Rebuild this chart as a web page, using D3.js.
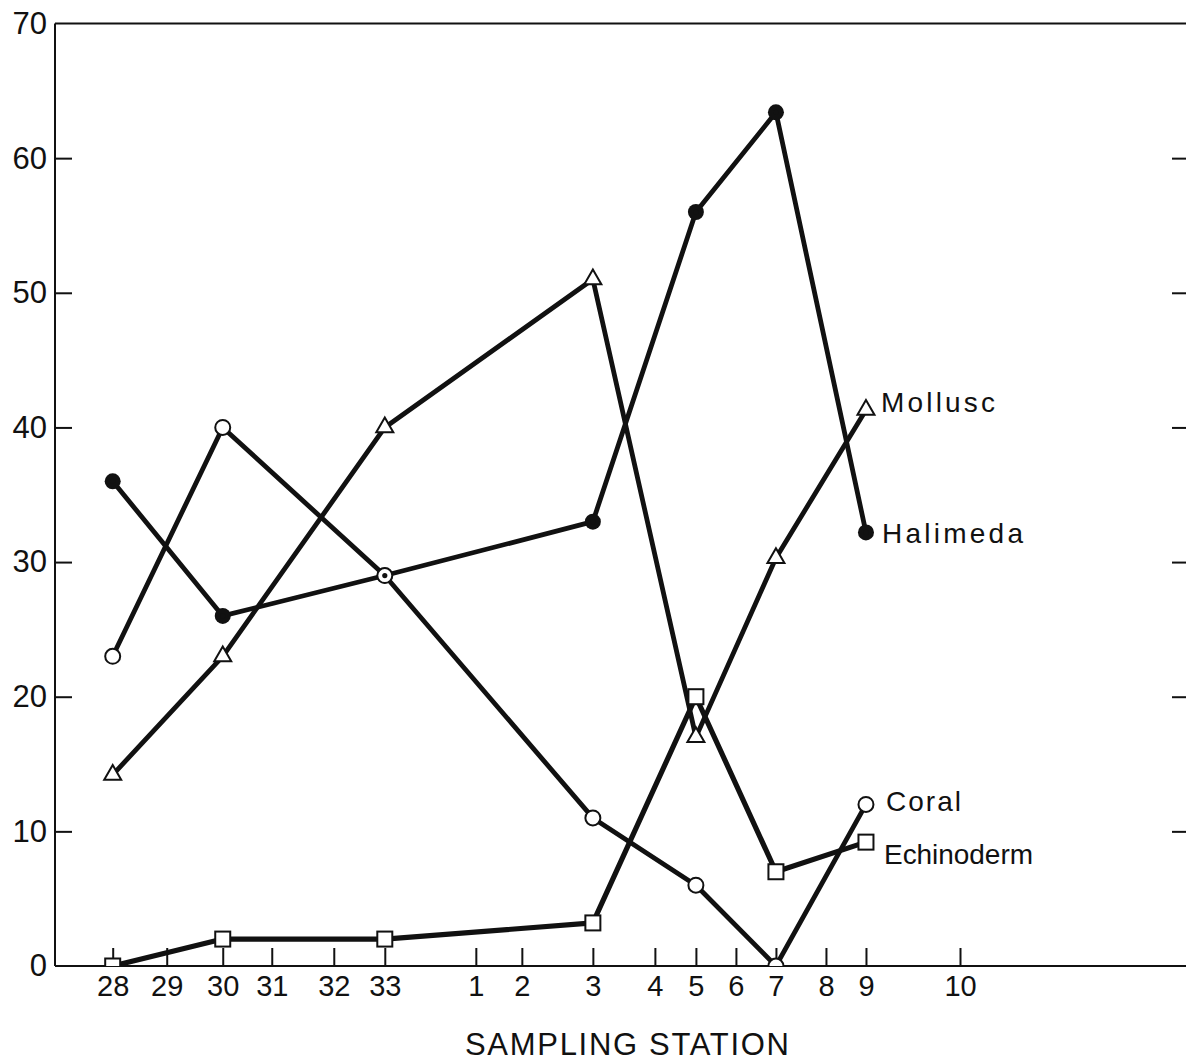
<!DOCTYPE html>
<html>
<head>
<meta charset="utf-8">
<script src="https://cdn.jsdelivr.net/npm/d3@7"></script>
<style>
  html, body { margin: 0; padding: 0; background: #fff; }
  svg { display: block; }
  text { font-family: "Liberation Sans", Arial, sans-serif; fill: #111; }
</style>
</head>
<body>
<svg id="chart" width="1186" height="1061"></svg>
<script>
// Sampling stations along the transect, in order, with their spacing on the axis
const stations = ["28", "29", "30", "31", "32", "33", "1", "2", "3", "4", "5", "6", "7", "8", "9", "10"];
const stationPosition = [0, 5.4, 11.0, 15.9, 22.1, 27.2, 36.3, 40.9, 48.0, 54.2, 58.3, 62.3, 66.3, 71.3, 75.3, 84.7];

// Stations where the sediment was counted
const sampledStations = ["28", "30", "33", "3", "5", "7", "9"];

// Percent of each constituent at the sampled stations
const halimeda   = [36, 26, 29, 33, 56, 63.4, 32.2];
const coral      = [23, 40, 29, 11, 6, 0, 12];
const mollusc    = [14.2, 23, 40, 51, 17, 30.3, 41.3];
const echinoderm = [0, 2, 2, 3.2, 20, 7, 9.2];

const yTickValues = [0, 10, 20, 30, 40, 50, 60, 70];
const seriesNames = ["Mollusc", "Halimeda", "Coral", "Echinoderm"];
const xTitle = "SAMPLING STATION";

const svg = d3.select("#chart");
const plotLeft = 55, plotRight = 1186, plotTop = 23.5, plotBottom = 966;

const posOf = s => stationPosition[stations.indexOf(s)];

const x = d3.scaleLinear().domain([0, 84.7]).range([112.7, 960]);
const y = d3.scaleLinear().domain([0, 70]).range([plotBottom, plotTop]);

// clip region: the plot frame
svg.append("defs").append("clipPath").attr("id", "plotClip")
  .append("rect").attr("x", plotLeft).attr("y", plotTop)
  .attr("width", plotRight - plotLeft).attr("height", plotBottom - plotTop);

// Frame (left, top, bottom)
const frame = svg.append("g").attr("stroke", "#111").attr("stroke-width", 2).attr("fill", "none");
frame.append("line").attr("x1", plotLeft).attr("x2", plotLeft).attr("y1", plotTop).attr("y2", plotBottom);
frame.append("line").attr("x1", plotLeft).attr("x2", plotRight).attr("y1", plotTop).attr("y2", plotTop);
frame.append("line").attr("x1", plotLeft).attr("x2", plotRight).attr("y1", plotBottom).attr("y2", plotBottom);

// Left axis: inward ticks, labels outside
const yAxis = svg.append("g").attr("transform", `translate(${plotLeft},0)`)
  .call(d3.axisLeft(y).tickValues(yTickValues).tickFormat(d3.format("d"))
    .tickSizeInner(-17).tickSizeOuter(0).tickPadding(8));
yAxis.select(".domain").remove();
yAxis.selectAll(".tick line").attr("stroke", "#111").attr("stroke-width", 2)
  .filter(d => d === 0 || d === 70).remove();
yAxis.selectAll(".tick text").attr("font-size", 31).attr("fill", "#111")
  .style("font-family", "'Liberation Sans', Arial, sans-serif");

// Right edge ticks
const yAxisR = svg.append("g").attr("transform", `translate(${plotRight},0)`)
  .call(d3.axisRight(y).tickValues(yTickValues.filter(d => d > 0 && d < 70))
    .tickFormat("").tickSizeInner(-14).tickSizeOuter(0));
yAxisR.select(".domain").remove();
yAxisR.selectAll(".tick line").attr("stroke", "#111").attr("stroke-width", 2);

// Bottom axis: station ticks pointing up into the plot
const xAxis = svg.append("g").attr("transform", `translate(0,${plotBottom})`)
  .call(d3.axisBottom(x).tickValues(stationPosition)
    .tickFormat((d, i) => stations[i])
    .tickSizeInner(-18).tickSizeOuter(0).tickPadding(9));
xAxis.select(".domain").remove();
xAxis.selectAll(".tick line").attr("stroke", "#111").attr("stroke-width", 2);
xAxis.selectAll(".tick text").attr("font-size", 29).attr("fill", "#111")
  .style("font-family", "'Liberation Sans', Arial, sans-serif");

// Axis title
svg.append("text")
  .attr("x", 627).attr("y", 1055)
  .attr("text-anchor", "middle")
  .attr("font-size", 31)
  .attr("textLength", 324)
  .attr("lengthAdjust", "spacing")
  .text(xTitle);

// Series
const toPoints = vals => sampledStations.map((s, i) => [x(posOf(s)), y(vals[i])]);
const line = d3.line();

const series = [
  { vals: mollusc,    width: 4.8 },
  { vals: coral,      width: 4.8 },
  { vals: halimeda,   width: 4.8 },
  { vals: echinoderm, width: 5.2 }
];

const linesG = svg.append("g").attr("clip-path", "url(#plotClip)");
series.forEach(s => {
  linesG.append("path")
    .attr("d", line(toPoints(s.vals)))
    .attr("fill", "none")
    .attr("stroke", "#111")
    .attr("stroke-width", s.width)
    .attr("stroke-linejoin", "round");
});

const markG = svg.append("g").attr("clip-path", "url(#plotClip)");

// Halimeda: filled circles
markG.selectAll(".hal").data(toPoints(halimeda)).join("circle")
  .attr("cx", d => d[0]).attr("cy", d => d[1]).attr("r", 8)
  .attr("fill", "#111");

// Mollusc: open triangles
const tri = d3.symbol().type(d3.symbolTriangle).size(125);
markG.selectAll(".mol").data(toPoints(mollusc)).join("path")
  .attr("d", tri)
  .attr("transform", d => `translate(${d[0]},${d[1]})`)
  .attr("fill", "#fff").attr("stroke", "#111").attr("stroke-width", 2);

// Coral: open circles
markG.selectAll(".cor").data(toPoints(coral)).join("circle")
  .attr("cx", d => d[0]).attr("cy", d => d[1]).attr("r", 7.5)
  .attr("fill", "#fff").attr("stroke", "#111").attr("stroke-width", 2);

// Halimeda centre dot shows through where it coincides with coral
markG.selectAll(".halDot").data(toPoints(halimeda)).join("circle")
  .attr("cx", d => d[0]).attr("cy", d => d[1]).attr("r", 2.6)
  .attr("fill", "#111");

// Echinoderm: open squares
markG.selectAll(".ech").data(toPoints(echinoderm)).join("rect")
  .attr("x", d => d[0] - 7.5).attr("y", d => d[1] - 7.5)
  .attr("width", 15).attr("height", 15)
  .attr("fill", "#fff").attr("stroke", "#111").attr("stroke-width", 2);

// Series labels beside the last station
const labelSpecs = [
  { name: seriesNames[0], x: 881, y: 412, len: 114 },
  { name: seriesNames[1], x: 882, y: 543, len: 141 },
  { name: seriesNames[2], x: 886, y: 811, len: 75 },
  { name: seriesNames[3], x: 884, y: 864, len: 149 }
];
svg.append("g").selectAll("text").data(labelSpecs).join("text")
  .attr("x", d => d.x).attr("y", d => d.y)
  .attr("font-size", 28)
  .attr("textLength", d => d.len)
  .attr("lengthAdjust", "spacing")
  .text(d => d.name);
</script>
</body>
</html>
